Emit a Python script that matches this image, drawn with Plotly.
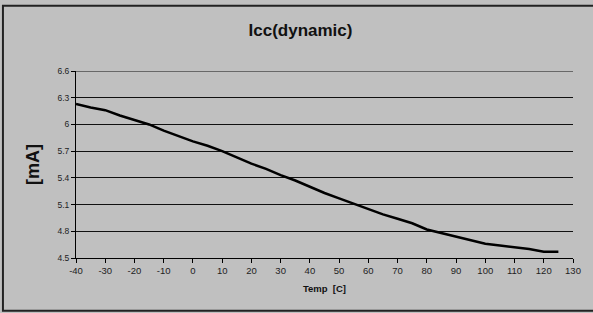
import plotly.graph_objects as go

temps = [-40, -35, -30, -25, -20, -15, -10, -5, 0, 5, 10, 15, 20, 25, 30, 35, 40,
         45, 50, 55, 60, 65, 70, 75, 80, 85, 90, 95, 100, 105, 110, 115, 120, 125]
icc_ma = [6.23, 6.19, 6.16, 6.10, 6.05, 6.00, 5.93, 5.87, 5.81, 5.76, 5.70, 5.63,
          5.56, 5.50, 5.43, 5.37, 5.30, 5.23, 5.17, 5.11, 5.05, 4.99, 4.94, 4.89,
          4.82, 4.78, 4.74, 4.70, 4.66, 4.64, 4.62, 4.60, 4.57, 4.57]
x_ticks = list(range(-40, 131, 10))
x_tick_labels = [str(v) for v in x_ticks]
y_ticks = [4.5, 4.8, 5.1, 5.4, 5.7, 6.0, 6.3, 6.6]
y_tick_labels = ["4.5", "4.8", "5.1", "5.4", "5.7", "6", "6.3", "6.6"]
y_min, y_max = y_ticks[0], y_ticks[-1]

fig = go.Figure()
fig.add_trace(go.Scatter(x=temps, y=icc_ma, mode="lines",
                         line=dict(color="black", width=2.5), showlegend=False))

font_family = "Liberation Sans, Arial, sans-serif"
fig.update_layout(
    width=593, height=313,
    margin=dict(l=76, r=17, t=71, b=55),
    paper_bgcolor="#C0C0C0", plot_bgcolor="#C0C0C0",
    font=dict(family=font_family, color="#222222", size=9),
    title=dict(text="<b>Icc(dynamic)</b>", x=300.5/593, xanchor="center",
               y=1 - 30/313, yanchor="middle",
               font=dict(size=17, color="#111111", family=font_family)),
    xaxis=dict(range=[-40, 130], tickvals=x_ticks, ticktext=x_tick_labels,
               showgrid=False,
               showline=True, linecolor="black", linewidth=1,
               ticks="outside", ticklen=4, tickcolor="black",
               zeroline=False, tickfont=dict(size=9.5),
               title=dict(text="<b>Temp  [C]</b>", font=dict(size=9.5, color="#111111"),
                          standoff=9)),
    yaxis=dict(range=[y_min, y_max], tickvals=y_ticks, ticktext=y_tick_labels,
               showgrid=True, gridcolor="#111111", gridwidth=1,
               showline=True, linecolor="black", linewidth=1,
               ticks="outside", ticklen=4, tickcolor="black",
               zeroline=False, tickfont=dict(size=8.5),
               title=dict(text="<b>[mA]</b>", font=dict(size=18, color="#111111"),
                          standoff=13)),
    shapes=[
        dict(type="line", xref="paper", yref="y", x0=0, x1=1, y0=y_max, y1=y_max,
             line=dict(color="#111111", width=1), layer="below"),
        dict(type="rect", xref="paper", yref="paper",
             x0=-73.5/500, x1=(600-76)/500, y0=-(311.5-258.5)/187.5,
             y1=1 + (71-5.5)/187.5,
             line=dict(color="#222222", width=2), fillcolor="rgba(0,0,0,0)"),
    ],
)

fig.write_html("out.html", config={"displayModeBar": False},
               post_script="document.body.style.margin='0';document.body.style.overflow='hidden';")
